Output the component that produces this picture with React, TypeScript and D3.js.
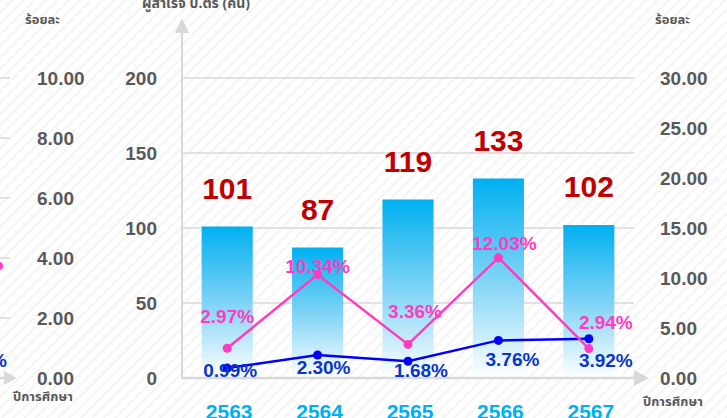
import React from 'react';
import * as d3 from 'd3';

const years = ['2563', '2564', '2565', '2566', '2567'];
const graduates = [101, 87, 119, 133, 102];
const pinkRate = [2.97, 10.34, 3.36, 12.03, 2.94];
const blueRate = [0.99, 2.3, 1.68, 3.76, 3.92];
const countTicks = [0, 50, 100, 150, 200];
const rightTicks = [0, 5, 10, 15, 20, 25, 30];
const leftTicks = [0, 2, 4, 6, 8, 10];

const pinkLabelShift = [[0, -25], [0, -2], [7, -26], [6, -8], [17, -20]];
const blueLabelShift = [[3, 9], [6, 19], [13, 16], [14, 26], [17, 28]];

const W = 727;
const H = 418;
const FONT = "'Liberation Sans', Arial, 'Noto Sans', sans-serif";
const THAI = "'Noto Sans Thai', 'Noto Sans', 'Liberation Sans', sans-serif";
const GRID = '#d9d9d9';
const TICK = '#595959';
const PINK = '#ff3cc0';
const BLUE = '#0000ff';
const BLUE_TXT = '#0a35c8';

export default function App() {
  const top = 78;
  const bottom = 378;
  const x = d3.scaleBand<string>().domain(years).range([182, 634]).paddingInner(0.435).paddingOuter(0.217);
  const yCount = d3.scaleLinear().domain([0, 200]).range([bottom, top]);
  const yRight = d3.scaleLinear().domain([0, 30]).range([bottom, top]);
  const yLeft = d3.scaleLinear().domain([0, 10]).range([bottom, top]);
  const cx = (i: number) => (x(years[i]) as number) + x.bandwidth() / 2;

  const line = d3.line<number>().x((_, i) => cx(i)).y((d) => yRight(d));

  return (
    <svg width={W} height={H} style={{ position: 'absolute', left: 0, top: 0 }}>
      <defs>
        <pattern id="stripes" width="8" height="8" patternUnits="userSpaceOnUse" patternTransform="rotate(45)">
          <line x1="0" y1="0" x2="0" y2="8" stroke="#f1f1f1" strokeWidth="3" />
        </pattern>
        <linearGradient id="barGrad" x1="0" y1="0" x2="0" y2="1">
          <stop offset="0%" stopColor="#00b0f0" />
          <stop offset="50%" stopColor="#7dd3f6" />
          <stop offset="100%" stopColor="#ffffff" />
        </linearGradient>
      </defs>
      <rect x={0} y={0} width={W} height={H} fill="#ffffff" />
      <rect x={0} y={0} width={W} height={H} fill="url(#stripes)" />

      {/* ghost left axis */}
      {leftTicks.map((t) => (
        <g key={'l' + t}>
          {t > 0 && <line x1={0} x2={10} y1={yLeft(t)} y2={yLeft(t)} stroke={GRID} strokeWidth={1.5} />}
          <text x={37} y={yLeft(t)} dy="0.35em" fontFamily={FONT} fontWeight="bold" fontSize={19} fill={TICK}>
            {t.toFixed(2)}
          </text>
        </g>
      ))}
      <line x1={0} x2={6} y1={bottom} y2={bottom} stroke={GRID} strokeWidth={2.5} />
      <path d={`M4,${bottom - 7} L17,${bottom} L4,${bottom + 7} Z`} fill={GRID} />
      <circle cx={-1} cy={266} r={4} fill={PINK} />
      <text x={7} y={367} textAnchor="end" fontFamily={FONT} fontWeight="bold" fontSize={19} fill={BLUE_TXT}>%</text>
      <text x={25} y={24} fontFamily={THAI} fontWeight="bold" fontSize={13} fill={TICK}>ร้อยละ</text>
      <text x={13} y={401} fontFamily={THAI} fontWeight="bold" fontSize={13} fill={TICK}>ปีการศึกษา</text>

      {/* gridlines */}
      {countTicks.filter((t) => t > 0).map((t) => (
        <line key={'g' + t} x1={182} x2={634} y1={yCount(t)} y2={yCount(t)} stroke={GRID} strokeWidth={1.5} />
      ))}

      {/* count axis */}
      {countTicks.map((t) => (
        <text key={'c' + t} x={157} y={yCount(t)} dy="0.35em" textAnchor="end" fontFamily={FONT} fontWeight="bold" fontSize={19} fill={TICK}>
          {t}
        </text>
      ))}
      <line x1={182} x2={182} y1={30} y2={bottom} stroke={GRID} strokeWidth={2} />
      <path d={`M175,33 L182,18 L189,33 Z`} fill={GRID} />
      <text x={142} y={8} fontFamily={THAI} fontWeight="bold" fontSize={14} fill={TICK}>ผู้สำเร็จ ป.ตรี (คน)</text>

      {/* bars */}
      {graduates.map((v, i) => (
        <rect key={'b' + i} x={x(years[i])} y={yCount(v)} width={x.bandwidth()} height={bottom - yCount(v)} fill="url(#barGrad)" />
      ))}

      {/* x axis */}
      <line x1={181} x2={636} y1={bottom} y2={bottom} stroke={GRID} strokeWidth={2.5} />
      <path d={`M634,${bottom - 8} L649,${bottom} L634,${bottom + 8} Z`} fill={GRID} />

      {/* bar value labels */}
      {graduates.map((v, i) => (
        <text key={'v' + i} x={cx(i)} y={yCount(v) - 28} textAnchor="middle" fontFamily={FONT} fontWeight="bold" fontSize={30} fill="#c00000">
          {v}
        </text>
      ))}

      {/* year labels */}
      {years.map((yv, i) => (
        <text key={'y' + i} x={cx(i) + 2} y={419} textAnchor="middle" fontFamily={FONT} fontWeight="bold" fontSize={21} fill="#00b0f0">
          {yv}
        </text>
      ))}

      {/* right axis */}
      {rightTicks.map((t) => (
        <text key={'r' + t} x={660} y={yRight(t)} dy="0.35em" fontFamily={FONT} fontWeight="bold" fontSize={19} fill={TICK}>
          {t.toFixed(2)}
        </text>
      ))}
      <text x={655} y={24} fontFamily={THAI} fontWeight="bold" fontSize={13} fill={TICK}>ร้อยละ</text>
      <text x={643} y={406} fontFamily={THAI} fontWeight="bold" fontSize={13} fill={TICK}>ปีการศึกษา</text>

      {/* lines */}
      <path d={line(blueRate) as string} fill="none" stroke={BLUE} strokeWidth={2.5} />
      {blueRate.map((v, i) => (
        <circle key={'bc' + i} cx={cx(i)} cy={yRight(v)} r={4.5} fill={BLUE} />
      ))}
      <path d={line(pinkRate) as string} fill="none" stroke={PINK} strokeWidth={2.5} />
      {pinkRate.map((v, i) => (
        <circle key={'pc' + i} cx={cx(i)} cy={yRight(v)} r={4.5} fill={PINK} />
      ))}

      {pinkRate.map((v, i) => (
        <text key={'pl' + i} x={cx(i) + pinkLabelShift[i][0]} y={yRight(v) + pinkLabelShift[i][1]} textAnchor="middle" fontFamily={FONT} fontWeight="bold" fontSize={19} fill={PINK}>
          {v.toFixed(2) + '%'}
        </text>
      ))}
      {blueRate.map((v, i) => (
        <text key={'bl' + i} x={cx(i) + blueLabelShift[i][0]} y={yRight(v) + blueLabelShift[i][1]} textAnchor="middle" fontFamily={FONT} fontWeight="bold" fontSize={19} fill={BLUE_TXT}>
          {v.toFixed(2) + '%'}
        </text>
      ))}
    </svg>
  );
}
